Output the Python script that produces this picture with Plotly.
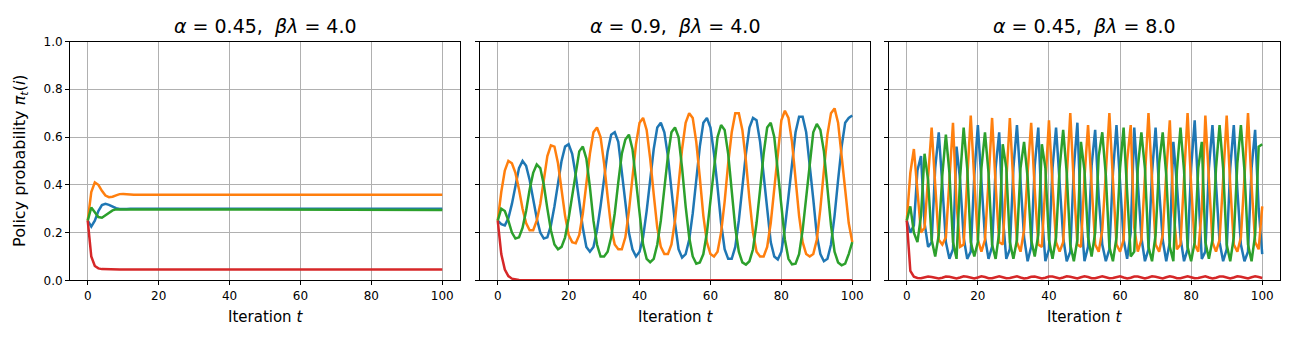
import plotly.graph_objects as go
from plotly.subplots import make_subplots

# ── data ──────────────────────────────────────────────────────
t = list(range(101))

titles = [
    "<i>α</i> = 0.45,\u00a0\u00a0<i>βλ</i> = 4.0",
    "<i>α</i> = 0.9,\u00a0\u00a0<i>βλ</i> = 4.0",
    "<i>α</i> = 0.45,\u00a0\u00a0<i>βλ</i> = 8.0",
]

# panel 1: alpha=0.45, beta*lambda=4.0 (settles quickly, flat afterwards)
p1_blue = [0.25, 0.225, 0.25, 0.29, 0.315, 0.32, 0.316, 0.308, 0.302, 0.299, 0.298, 0.299, 0.300] + [0.300] * 88
p1_orange = [0.25, 0.37, 0.41, 0.40, 0.375, 0.355, 0.348, 0.35, 0.356, 0.361, 0.362, 0.360, 0.358] + [0.358] * 88
p1_green = [0.25, 0.305, 0.285, 0.265, 0.262, 0.272, 0.285, 0.293, 0.297, 0.297, 0.296, 0.295, 0.295] + [0.295] * 88
p1_red = [0.25, 0.10, 0.06, 0.050, 0.047, 0.046, 0.046, 0.045, 0.045, 0.045, 0.045, 0.045, 0.045] + [0.045] * 88

# panel 2: alpha=0.9, beta*lambda=4.0
p2_blue = [
    0.25, 0.235, 0.23, 0.26, 0.32, 0.40, 0.47, 0.50, 0.48, 0.42,
    0.34, 0.26, 0.20, 0.175, 0.18, 0.23, 0.31, 0.41, 0.50, 0.56,
    0.57, 0.53, 0.44, 0.33, 0.22, 0.14, 0.12, 0.14, 0.21, 0.31,
    0.43, 0.54, 0.61, 0.62, 0.58, 0.45, 0.31, 0.20, 0.13, 0.10,
    0.12, 0.18, 0.29, 0.42, 0.55, 0.64, 0.66, 0.62, 0.52, 0.38,
    0.24, 0.13, 0.095, 0.11, 0.17, 0.28, 0.42, 0.56, 0.66, 0.68,
    0.64, 0.53, 0.39, 0.24, 0.13, 0.09, 0.09, 0.14, 0.25, 0.39,
    0.53, 0.64, 0.68, 0.67, 0.58, 0.44, 0.29, 0.16, 0.10, 0.087,
    0.12, 0.22, 0.35, 0.50, 0.62, 0.685, 0.685, 0.62, 0.49, 0.34,
    0.19, 0.11, 0.08, 0.09, 0.15, 0.27, 0.42, 0.56, 0.66, 0.68,
    0.69,
]
p2_orange = [
    0.25, 0.37, 0.46, 0.50, 0.49, 0.45, 0.38, 0.30, 0.24, 0.21,
    0.21, 0.25, 0.32, 0.42, 0.52, 0.565, 0.56, 0.49, 0.38, 0.27,
    0.19, 0.16, 0.155, 0.19, 0.28, 0.40, 0.53, 0.62, 0.64, 0.60,
    0.49, 0.35, 0.22, 0.15, 0.13, 0.13, 0.18, 0.29, 0.43, 0.57,
    0.66, 0.68, 0.63, 0.51, 0.36, 0.22, 0.14, 0.11, 0.11, 0.15,
    0.25, 0.40, 0.55, 0.66, 0.70, 0.68, 0.58, 0.43, 0.27, 0.16,
    0.11, 0.10, 0.12, 0.20, 0.33, 0.49, 0.62, 0.70, 0.70, 0.63,
    0.50, 0.34, 0.20, 0.12, 0.10, 0.10, 0.14, 0.24, 0.39, 0.55,
    0.67, 0.71, 0.68, 0.58, 0.43, 0.27, 0.16, 0.11, 0.10, 0.11,
    0.17, 0.30, 0.46, 0.61, 0.70, 0.72, 0.66, 0.53, 0.38, 0.24,
    0.16,
]
p2_green = [
    0.25, 0.30, 0.29, 0.25, 0.20, 0.175, 0.18, 0.22, 0.29, 0.38,
    0.45, 0.485, 0.47, 0.40, 0.30, 0.21, 0.15, 0.13, 0.14, 0.18,
    0.26, 0.36, 0.46, 0.54, 0.56, 0.51, 0.39, 0.25, 0.15, 0.10,
    0.10, 0.12, 0.18, 0.28, 0.41, 0.53, 0.59, 0.61, 0.55, 0.42,
    0.27, 0.15, 0.09, 0.076, 0.09, 0.15, 0.25, 0.38, 0.52, 0.62,
    0.64, 0.60, 0.47, 0.31, 0.18, 0.10, 0.07, 0.075, 0.11, 0.20,
    0.33, 0.48, 0.60, 0.65, 0.63, 0.53, 0.38, 0.22, 0.12, 0.075,
    0.066, 0.08, 0.13, 0.24, 0.38, 0.53, 0.64, 0.66, 0.60, 0.46,
    0.30, 0.17, 0.09, 0.067, 0.07, 0.11, 0.21, 0.35, 0.50, 0.62,
    0.655, 0.63, 0.54, 0.38, 0.23, 0.12, 0.075, 0.063, 0.07, 0.11,
    0.16,
]
p2_red = [0.25, 0.11, 0.045, 0.018, 0.007, 0.003, 0.001] + [0.0] * 94

# panel 3: alpha=0.45, beta*lambda=8.0 (fast cycling)
p3_blue = [
    0.25, 0.20, 0.23, 0.46, 0.52, 0.24, 0.14, 0.16, 0.47, 0.62,
    0.40, 0.16, 0.09, 0.13, 0.56, 0.42, 0.18, 0.09, 0.12, 0.44,
    0.65, 0.40, 0.18, 0.09, 0.14, 0.47, 0.62, 0.27, 0.09, 0.13,
    0.47, 0.65, 0.40, 0.18, 0.08, 0.14, 0.48, 0.64, 0.28, 0.08,
    0.13, 0.47, 0.64, 0.40, 0.18, 0.08, 0.12, 0.47, 0.66, 0.27,
    0.08, 0.14, 0.48, 0.63, 0.35, 0.15, 0.08, 0.13, 0.45, 0.65,
    0.40, 0.17, 0.09, 0.20, 0.64, 0.40, 0.18, 0.08, 0.13, 0.45,
    0.64, 0.38, 0.17, 0.08, 0.16, 0.58, 0.40, 0.18, 0.08, 0.13,
    0.47, 0.67, 0.40, 0.09, 0.12, 0.47, 0.65, 0.40, 0.16, 0.08,
    0.13, 0.47, 0.65, 0.38, 0.15, 0.08, 0.12, 0.47, 0.63, 0.30,
    0.11,
]
p3_orange = [
    0.25, 0.45, 0.55, 0.36, 0.20, 0.22, 0.42, 0.64, 0.40, 0.17,
    0.15, 0.18, 0.42, 0.66, 0.32, 0.14, 0.15, 0.40, 0.69, 0.42,
    0.17, 0.12, 0.17, 0.42, 0.68, 0.40, 0.16, 0.15, 0.40, 0.68,
    0.40, 0.16, 0.12, 0.21, 0.45, 0.66, 0.38, 0.15, 0.14, 0.42,
    0.67, 0.40, 0.16, 0.12, 0.16, 0.43, 0.70, 0.40, 0.15, 0.14,
    0.43, 0.65, 0.38, 0.15, 0.12, 0.21, 0.45, 0.70, 0.42, 0.15,
    0.12, 0.17, 0.50, 0.65, 0.22, 0.12, 0.17, 0.42, 0.70, 0.42,
    0.15, 0.12, 0.19, 0.45, 0.67, 0.30, 0.13, 0.15, 0.42, 0.70,
    0.40, 0.15, 0.12, 0.30, 0.69, 0.40, 0.16, 0.12, 0.17, 0.42,
    0.69, 0.40, 0.15, 0.12, 0.18, 0.43, 0.70, 0.40, 0.16, 0.13,
    0.31,
]
p3_green = [
    0.25, 0.31, 0.20, 0.16, 0.27, 0.53, 0.42, 0.17, 0.10, 0.19,
    0.44, 0.61, 0.45, 0.16, 0.09, 0.43, 0.64, 0.47, 0.16, 0.10,
    0.16, 0.47, 0.62, 0.45, 0.15, 0.09, 0.20, 0.57, 0.47, 0.16,
    0.09, 0.17, 0.47, 0.58, 0.43, 0.17, 0.10, 0.19, 0.57, 0.47,
    0.17, 0.09, 0.18, 0.47, 0.63, 0.45, 0.15, 0.08, 0.17, 0.58,
    0.46, 0.18, 0.10, 0.20, 0.52, 0.62, 0.44, 0.14, 0.08, 0.18,
    0.47, 0.64, 0.37, 0.10, 0.12, 0.47, 0.62, 0.47, 0.14, 0.08,
    0.19, 0.49, 0.62, 0.44, 0.14, 0.08, 0.46, 0.64, 0.46, 0.14,
    0.08, 0.16, 0.47, 0.58, 0.16, 0.09, 0.17, 0.47, 0.65, 0.47,
    0.15, 0.08, 0.18, 0.49, 0.65, 0.46, 0.15, 0.08, 0.19, 0.56,
    0.57,
]
p3_red = [
    0.25, 0.04, 0.015, 0.010, 0.009, 0.012, 0.016, 0.014, 0.010, 0.008,
    0.011, 0.016, 0.015, 0.010, 0.008, 0.012, 0.017, 0.015, 0.010, 0.008,
    0.012, 0.017, 0.014, 0.009, 0.009, 0.013, 0.017, 0.013, 0.009, 0.010,
    0.015, 0.017, 0.012, 0.008, 0.010, 0.015, 0.016, 0.011, 0.008, 0.011,
    0.016, 0.016, 0.011, 0.008, 0.012, 0.017, 0.015, 0.010, 0.008, 0.013,
    0.017, 0.014, 0.009, 0.009, 0.014, 0.017, 0.013, 0.009, 0.010, 0.015,
    0.017, 0.012, 0.008, 0.011, 0.016, 0.016, 0.011, 0.008, 0.012, 0.017,
    0.015, 0.010, 0.008, 0.013, 0.017, 0.014, 0.009, 0.009, 0.014, 0.017,
    0.013, 0.009, 0.010, 0.015, 0.017, 0.012, 0.008, 0.011, 0.016, 0.016,
    0.011, 0.008, 0.012, 0.017, 0.015, 0.010, 0.008, 0.013, 0.017, 0.014,
    0.010,
]

panels = [
    [p1_blue, p1_orange, p1_green, p1_red],
    [p2_blue, p2_orange, p2_green, p2_red],
    [p3_blue, p3_orange, p3_green, p3_red],
]
colors = ["#1f77b4", "#ff7f0e", "#2ca02c", "#d62728"]

# ── figure ───────────────────────────────────────────────────
W, H = 1289, 342
FONT = "DejaVu Sans"


def px_x(x):
    return x / W


def px_y(y):
    return (H - y) / H


fig = make_subplots(rows=1, cols=3, shared_yaxes=True)

for c, series in enumerate(panels, start=1):
    for ys, col in zip(series, colors):
        fig.add_trace(go.Scatter(
            x=t, y=ys, mode="lines",
            line=dict(color=col, width=2.5),
            showlegend=False,
        ), row=1, col=c)

# axes boxes in screen pixels (left, right) / (bottom, top)
x_boxes = [(70, 460), (480, 870), (889, 1280)]
y_bot, y_top = 285, 36

for i, (x0, x1) in enumerate(x_boxes, start=1):
    fig.update_xaxes(
        domain=[px_x(x0), px_x(x1)], range=[-5, 105],
        tickvals=[0, 20, 40, 60, 80, 100],
        row=1, col=i,
    )
    fig.update_yaxes(
        domain=[px_y(y_bot), px_y(y_top)], range=[0, 1],
        tickvals=[0, 0.2, 0.4, 0.6, 0.8, 1.0], tickformat=".1f",
        showticklabels=(i == 1),
        row=1, col=i,
    )

    cx = px_x((x0 + x1) / 2)
    fig.add_annotation(
        x=cx, y=px_y(20), xref="paper", yref="paper",
        xanchor="center", yanchor="middle",
        text=titles[i - 1], showarrow=False,
        font=dict(size=19, color="black", family=FONT),
    )
    fig.add_annotation(
        x=cx, y=px_y(323), xref="paper", yref="paper",
        xanchor="center", yanchor="middle",
        text="Iteration <i>t</i>", showarrow=False,
        font=dict(size=15, color="black", family=FONT),
    )

fig.add_annotation(
    x=px_x(21), y=px_y((y_top + y_bot) / 2), xref="paper", yref="paper",
    xanchor="center", yanchor="middle",
    text="Policy probability <i>π<sub>t</sub></i>(<i>i</i>)", textangle=-90,
    showarrow=False, font=dict(size=16, color="black", family=FONT),
)

axis_style = dict(
    showgrid=True, gridcolor="#b0b0b0", gridwidth=1,
    zeroline=False,
    showline=True, linecolor="black", linewidth=1, mirror=True,
    ticks="outside", ticklen=4, tickcolor="black", tickwidth=1,
    tickfont=dict(size=12, color="black", family=FONT),
)
fig.update_xaxes(**axis_style)
fig.update_yaxes(**axis_style)

fig.update_layout(
    width=W, height=H,
    margin=dict(l=0, r=0, t=0, b=0),
    plot_bgcolor="white", paper_bgcolor="white",
    font=dict(family=FONT, color="black"),
)

# drop the default page margin so the figure sits at the window's corner
fig.write_html(
    "out.html",
    config={"displayModeBar": False},
    post_script="document.body.style.margin='0';document.body.style.overflow='hidden';",
)
